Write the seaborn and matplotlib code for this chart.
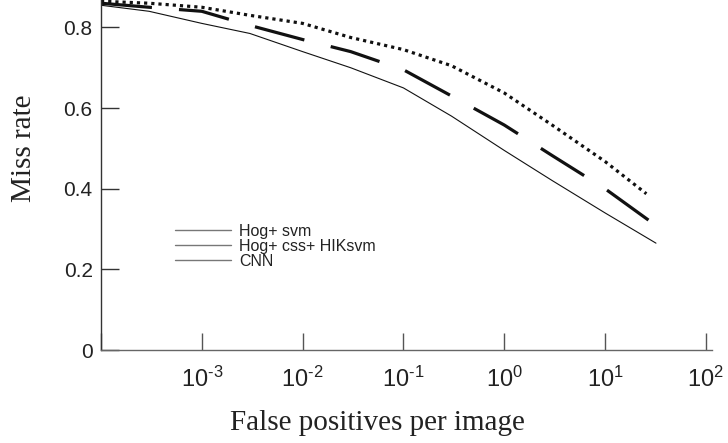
import pandas as pd
import numpy as np
import matplotlib
matplotlib.use("Agg")
import matplotlib.pyplot as plt
from matplotlib.lines import Line2D
import seaborn as sns

# values (false positives per image -> miss rate)
fppi_cnn = [1e-4, 3e-4, 1e-3, 3e-3, 1e-2, 3e-2, 1e-1, 3e-1, 1e0, 3e0, 1e1, 32]
miss_cnn = [0.855, 0.84, 0.81, 0.785, 0.74, 0.70, 0.65, 0.58, 0.495, 0.42, 0.34, 0.265]

fppi_hik = [1e-4, 3e-4, 1e-3, 3e-3, 1e-2, 3e-2, 1e-1, 3e-1, 1e0, 3e0, 1e1, 31.5]
miss_hik = [0.86, 0.85, 0.84, 0.805, 0.77, 0.74, 0.695, 0.63, 0.558, 0.482, 0.40, 0.31]

fppi_svm = [1e-4, 3e-4, 1e-3, 3e-3, 1e-2, 3e-2, 1e-1, 3e-1, 1e0, 3e0, 1e1, 25.7]
miss_svm = [0.865, 0.86, 0.85, 0.83, 0.81, 0.775, 0.745, 0.705, 0.6375, 0.5575, 0.4675, 0.3875]

legend_labels = ["Hog+ svm", "Hog+ css+ HIKsvm", "CNN"]
x_ticks = [1e-4, 1e-3, 1e-2, 1e-1, 1e0, 1e1, 1e2]
x_tick_labels = ["", r"$10^{\text{-}3}$", r"$10^{\text{-}2}$", r"$10^{\text{-}1}$",
                 r"$10^{0}$", r"$10^{1}$", r"$10^{2}$"]
y_ticks = [0, 0.2, 0.4, 0.6, 0.8]
y_tick_labels = ["0", "0.2", "0.4", "0.6", "0.8"]

df = pd.concat([
    pd.DataFrame({"fppi": fppi_svm, "miss": miss_svm, "method": "Hog+ svm"}),
    pd.DataFrame({"fppi": fppi_hik, "miss": miss_hik, "method": "Hog+ css+ HIKsvm"}),
    pd.DataFrame({"fppi": fppi_cnn, "miss": miss_cnn, "method": "CNN"}),
])

sns.set_style("white")
plt.rcParams["font.family"] = ["Liberation Sans", "DejaVu Sans"]
plt.rcParams["mathtext.fontset"] = "custom"
plt.rcParams["mathtext.rm"] = "Liberation Sans"
plt.rcParams["mathtext.it"] = "Liberation Sans"

fig = plt.figure(figsize=(7.28, 4.43), dpi=100)
ax = fig.add_axes([0.1387, 0.2099, 0.8393, 0.7901])
ax.set_xscale("log")

sns.lineplot(data=df, x="fppi", y="miss", style="method", size="method",
             dashes={"Hog+ svm": (1, 1.25), "Hog+ css+ HIKsvm": (16, 8.5), "CNN": ""},
             sizes={"Hog+ svm": 2.3, "Hog+ css+ HIKsvm": 2.3, "CNN": 0.8},
             color="#111111", legend=False, ax=ax, sort=False)

ax.set_xlim(1e-4, 115)
ax.set_ylim(0, 0.868)
ax.xaxis.set_minor_locator(matplotlib.ticker.NullLocator())
ax.set_xticks(x_ticks)
ax.set_xticklabels(x_tick_labels)
ax.set_yticks(y_ticks)
ax.set_yticklabels(y_tick_labels)

for side in ["top", "right"]:
    ax.spines[side].set_visible(False)
ax.spines["left"].set_color("#333333")
ax.spines["bottom"].set_color("#666666")
ax.spines["left"].set_linewidth(1.0)
ax.spines["bottom"].set_linewidth(1.0)

ax.tick_params(axis="y", left=True, direction="in", length=13, width=1, color="#333333",
               labelsize=15, pad=6, labelcolor="#222222")
ax.tick_params(axis="x", bottom=True, direction="in", length=12, width=1, color="#555555",
               labelsize=17, pad=12, labelcolor="#222222")

ax.set_xlabel("False positives per image", family=["Liberation Serif"], fontsize=21, color="#222222")
ax.set_ylabel("Miss rate", family=["Liberation Serif"], fontsize=21, color="#222222")
ax.xaxis.set_label_coords(0.452, -0.172)
ax.yaxis.set_label_coords(-0.105, 0.577)

handles = [Line2D([], [], color="#777777", lw=1.0) for _ in legend_labels]
ax.legend(handles, legend_labels, loc="center left", bbox_to_anchor=(0.121, 0.297),
          frameon=False, fontsize=11.5, handlelength=3.5, handletextpad=0.5,
          labelspacing=0.0, borderpad=0, borderaxespad=0, labelcolor="#222222")

fig.savefig("out.png", dpi=100)
